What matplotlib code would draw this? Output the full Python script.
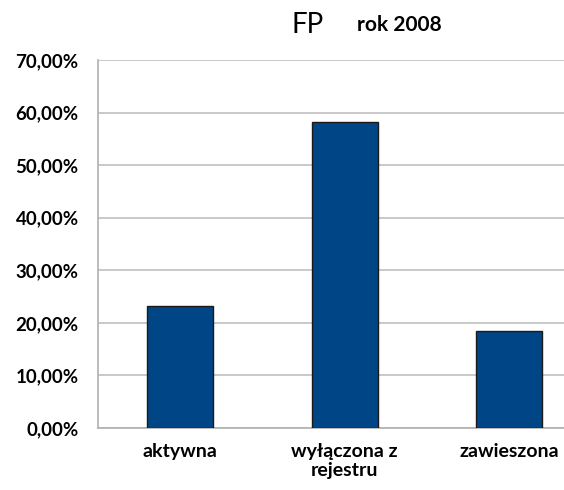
import matplotlib.pyplot as plt
from matplotlib.ticker import FuncFormatter

categories = ["aktywna", "wyłączona z\nrejestru", "zawieszona"]
values = [23.3, 58.2, 18.5]
yticks = [0, 10, 20, 30, 40, 50, 60, 70]

plt.rcParams['font.family'] = ['Lato', 'DejaVu Sans']

fig = plt.figure(figsize=(5.64, 4.90), dpi=100)
ax = fig.add_axes([0.174, 0.1265, 0.826, 0.751])

x = range(len(categories))
ax.bar(x, values, width=0.4, color="#004586", edgecolor="#1a1a1a", linewidth=1.0, zorder=3)

ax.set_ylim(0, 70)
ax.set_xlim(-0.5, 2.334)
ax.set_yticks(yticks)
ax.yaxis.set_major_formatter(FuncFormatter(lambda v, p: ("%.2f%%" % v).replace(".", ",")))
ax.set_xticks(list(x))
ax.set_xticklabels(categories, fontsize=14, fontweight="bold", linespacing=1.15)
for lab in ax.get_yticklabels():
    lab.set_fontsize(13.5)
    lab.set_fontweight("bold")

ax.grid(axis="y", color="#c0c0c0", linewidth=1.2, zorder=0)
ax.tick_params(axis="y", length=0, pad=14, colors="black")
ax.tick_params(axis="x", length=0, pad=11, colors="black")
for s in ["top", "right"]:
    ax.spines[s].set_visible(False)
for s in ["left", "bottom"]:
    ax.spines[s].set_color("#b0b0b0")
    ax.spines[s].set_linewidth(1.2)

fig.text(0.516, 0.948, "FP", fontsize=20, ha="left", va="center")
fig.text(0.633, 0.948, "rok 2008", fontsize=15, fontweight="bold", ha="left", va="center")

fig.savefig("out.png", dpi=100)
